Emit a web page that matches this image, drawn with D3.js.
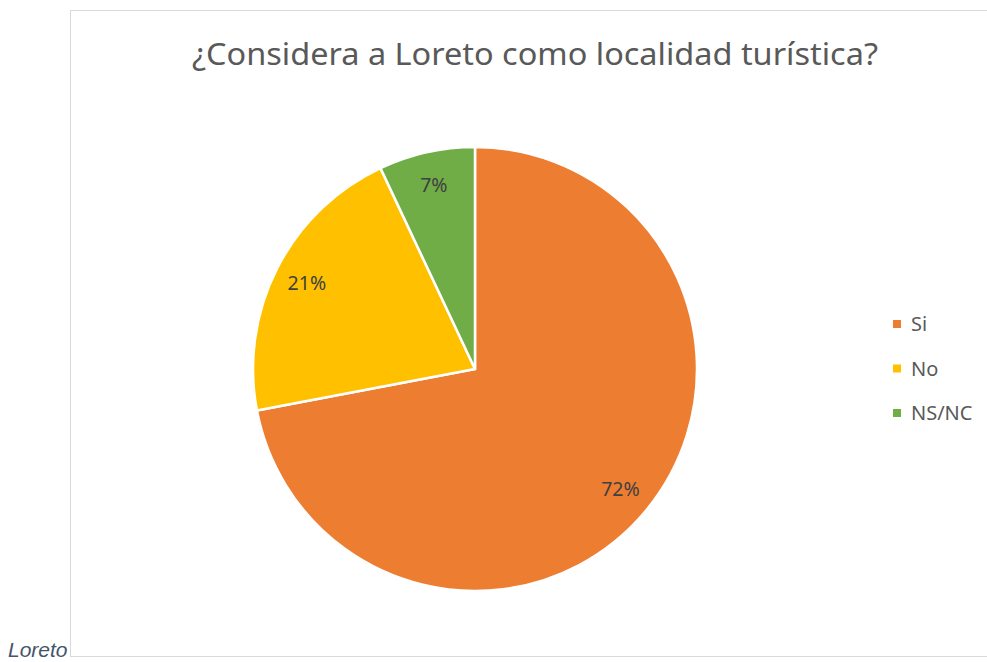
<!DOCTYPE html>
<html>
<head>
<meta charset="utf-8">
<script src="https://cdn.jsdelivr.net/npm/d3@7"></script>
<style>
  body { margin: 0; background: #fff; }
  svg { display: block; }
</style>
</head>
<body>
<div id="chart"></div>
<script>
// Data
const categories = ['Si', 'No', 'NS/NC'];
const values = [72, 21, 7];
const colors = ['#ED7D31', '#FFC000', '#70AD47'];
const title = '¿Considera a Loreto como localidad turística?';

const W = 987, H = 662;
const cx = 475, cy = 369, radius = 222;

const svg = d3.select('#chart')
    .append('svg')
    .attr('width', W)
    .attr('height', H);

// Chart frame
svg.append('rect')
    .attr('x', 70.5)
    .attr('y', 10.5)
    .attr('width', 920)
    .attr('height', 646)
    .attr('fill', '#fff')
    .attr('stroke', '#d9d9d9')
    .attr('stroke-width', 1);

// Title
svg.append('text')
    .attr('x', 535)
    .attr('y', 65)
    .attr('text-anchor', 'middle')
    .attr('textLength', 686)
    .attr('lengthAdjust', 'spacingAndGlyphs')
    .style('font-family', '"Noto Sans", "Open Sans", sans-serif')
    .style('font-size', '30px')
    .style('fill', '#595959')
    .text(title);

const data = categories.map((c, i) => ({ name: c, value: values[i], color: colors[i] }));
const total = d3.sum(values);

const pie = d3.pie()
    .value(d => d.value)
    .sort(null);

const arc = d3.arc()
    .innerRadius(0)
    .outerRadius(radius);

const labelArc = d3.arc()
    .innerRadius(radius * 0.85)
    .outerRadius(radius * 0.85);

const g = svg.append('g')
    .attr('transform', `translate(${cx},${cy})`);

const arcs = pie(data);

g.selectAll('path')
    .data(arcs)
    .enter()
    .append('path')
    .attr('d', arc)
    .attr('fill', d => d.data.color)
    .attr('stroke', '#fff')
    .attr('stroke-width', 2.5)
    .attr('stroke-linejoin', 'round');

g.selectAll('.label')
    .data(arcs)
    .enter()
    .append('text')
    .attr('class', 'label')
    .attr('transform', d => `translate(${labelArc.centroid(d)})`)
    .attr('text-anchor', 'middle')
    .attr('dy', '0.35em')
    .style('font-family', '"Noto Sans", "Open Sans", sans-serif')
    .style('font-size', '19.5px')
    .style('fill', '#404040')
    .text(d => Math.round(d.data.value / total * 100) + '%');

// Legend
const legend = svg.append('g')
    .attr('transform', 'translate(893,324)');

const item = legend.selectAll('.item')
    .data(data)
    .enter()
    .append('g')
    .attr('class', 'item')
    .attr('transform', (d, i) => `translate(0,${i * 44.5})`);

item.append('rect')
    .attr('x', 0)
    .attr('y', -4)
    .attr('width', 8)
    .attr('height', 8)
    .attr('fill', d => d.color);

item.append('text')
    .attr('x', 18)
    .attr('dy', '0.35em')
    .style('font-family', '"Noto Sans", "Open Sans", sans-serif')
    .style('font-size', '20px')
    .style('fill', '#595959')
    .text(d => d.name);

// Caption outside the frame
svg.append('text')
    .attr('x', 8)
    .attr('y', 657)
    .style('font-family', '"Liberation Sans", Arial, sans-serif')
    .style('font-style', 'italic')
    .style('font-size', '21px')
    .style('fill', '#44546A')
    .text('Loreto');
</script>
</body>
</html>
